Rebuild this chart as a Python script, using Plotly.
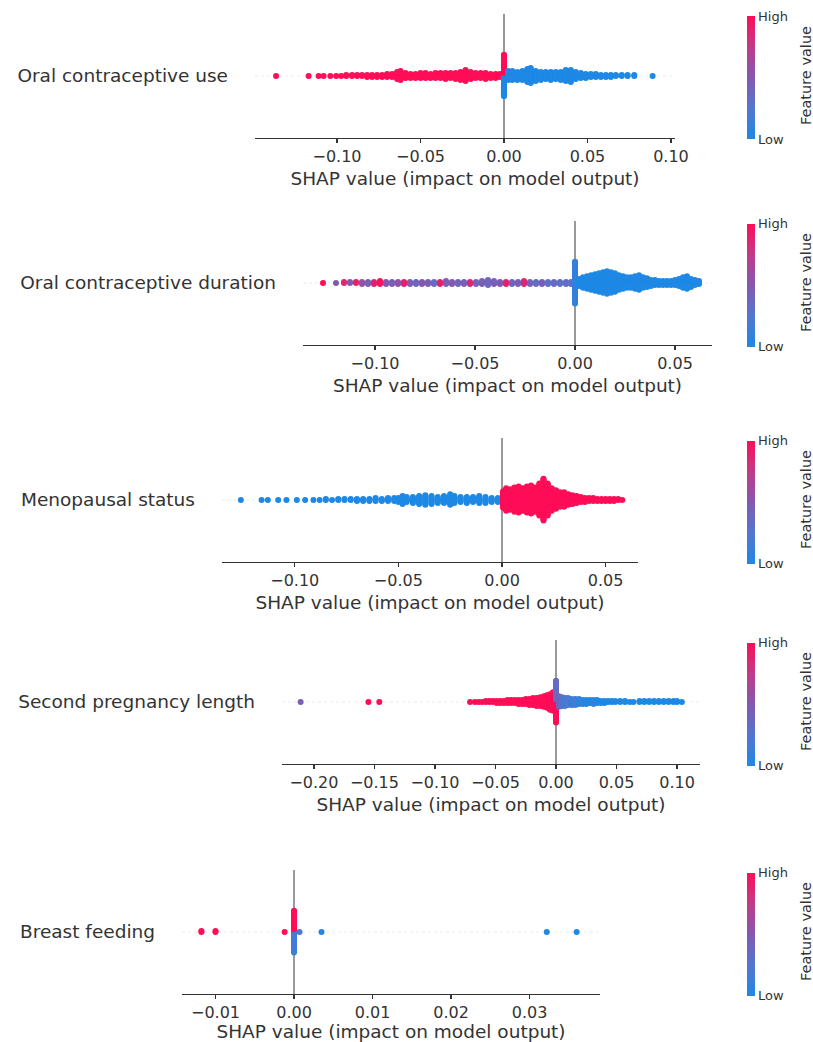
import math
import plotly.graph_objects as go

W, H = 813, 1042

features = [
    "Oral contraceptive use",
    "Oral contraceptive duration",
    "Menopausal status",
    "Second pregnancy length",
    "Breast feeding",
]

# ---------------- data (SHAP value, number of samples, feature value 0=low..1=high)
p1_shap = [-0.1365, -0.117, -0.111, -0.108, -0.104, -0.1005, -0.0975,
           -0.0945, -0.091, -0.088, -0.085, -0.082, -0.079, -0.076, -0.073,
           -0.070, -0.067, -0.064, -0.062, -0.059, -0.056, -0.053, -0.050,
           -0.047, -0.044, -0.041, -0.038, -0.035, -0.032, -0.029, -0.026,
           -0.023, -0.020, -0.017, -0.014, -0.011, -0.008, -0.005, -0.0025,
           0.0, 0.0,
           0.0025, 0.005, 0.008, 0.011, 0.014, 0.016, 0.019, 0.022,
           0.025, 0.028, 0.031, 0.034, 0.037, 0.040, 0.043, 0.046,
           0.049, 0.052, 0.055, 0.058, 0.061, 0.064, 0.067, 0.0705,
           0.074, 0.078, 0.089]
p1_count = [1, 1, 1, 1, 1, 1, 1,
            2, 2, 2, 2, 3, 3, 3, 3,
            4, 4, 8, 10, 6, 5, 5, 6,
            6, 5, 6, 6, 7, 6, 7, 9,
            12, 8, 6, 6, 7, 5, 5, 4,
            21, 21,
            10, 10, 9, 10, 14, 16, 11, 9,
            8, 9, 8, 9, 12, 13, 8, 6,
            5, 4, 4, 3, 3, 3, 2, 2,
            2, 2, 1]
p1_feat = [1, 1, 1, 1, 1, 1, 1,
           1, 1, 1, 1, 1, 1, 1, 1,
           1, 1, 1, 1, 1, 1, 1, 1,
           1, 1, 1, 1, 1, 1, 1, 1,
           1, 1, 1, 1, 1, 1, 1, 1,
           0, 1,
           0, 0, 0, 0, 0, 0, 0, 0,
           0, 0, 0, 0, 0, 0, 0, 0,
           0, 0, 0, 0, 0, 0, 0, 0,
           0, 0, 0]

p2_shap = [-0.126, -0.1195,
           -0.1155, -0.1125, -0.1095, -0.1065, -0.1035, -0.1005, -0.0975,
           -0.0945, -0.0915, -0.0885, -0.0855, -0.0825, -0.0795, -0.0765,
           -0.0735, -0.0705, -0.0675, -0.0645, -0.0615, -0.0585, -0.0555,
           -0.0525, -0.0495, -0.0465, -0.0435, -0.0405, -0.0375, -0.0345,
           -0.0315, -0.0285, -0.0255, -0.0225, -0.0195, -0.0165, -0.0135,
           -0.0105, -0.0075, -0.0045, -0.002,
           0.0,
           0.002, 0.004, 0.006, 0.008, 0.010, 0.012, 0.014, 0.016,
           0.018, 0.020, 0.022, 0.024, 0.026, 0.028, 0.030, 0.032,
           0.034, 0.036, 0.038, 0.040, 0.042, 0.044, 0.046, 0.048,
           0.050, 0.052, 0.054, 0.056, 0.058, 0.060, 0.062]
p2_count = [1, 1,
            2, 2, 2, 3, 3, 3, 4,
            3, 3, 3, 3, 3, 3, 3,
            3, 3, 3, 4, 3, 3, 3,
            3, 3, 4, 6, 4, 3, 3,
            3, 3, 4, 3, 3, 3, 3,
            3, 3, 3, 3,
            44,
            8, 12, 14, 16, 18, 20, 22, 24,
            22, 20, 16, 14, 12, 12, 14, 16,
            12, 10, 7, 6, 5, 5, 5, 5,
            6, 8, 12, 14, 9, 6, 4]
p2_feat = [1.0, 0.5,
           0.85, 0.5, 0.9, 0.55, 0.45, 0.9, 0.95,
           0.5, 0.45, 0.55, 0.9, 0.45, 0.4, 0.5,
           0.45, 0.35, 0.9, 0.45, 0.5, 0.4, 0.45,
           0.85, 0.4, 0.45, 0.4, 0.45, 0.5, 0.9,
           0.4, 0.45, 0.85, 0.4, 0.35, 0.45, 0.3,
           0.35, 0.3, 0.35, 0.3,
           0.1,
           0, 0, 0, 0, 0, 0, 0, 0,
           0, 0, 0, 0, 0, 0, 0, 0,
           0, 0, 0, 0, 0, 0, 0, 0,
           0, 0, 0, 0, 0, 0, 0]

p3_shap = [-0.126, -0.116, -0.113, -0.108, -0.104, -0.099, -0.095, -0.091,
           -0.088, -0.085, -0.082, -0.079, -0.076, -0.073, -0.070, -0.067,
           -0.064, -0.061, -0.058, -0.055, -0.052, -0.050, -0.048, -0.046,
           -0.043, -0.040, -0.037, -0.034, -0.031, -0.028, -0.025, -0.023,
           -0.020, -0.017, -0.014, -0.011, -0.008, -0.005, -0.002,
           0.0005, 0.002, 0.004, 0.006, 0.008, 0.010, 0.012, 0.014,
           0.016, 0.018, 0.020, 0.022, 0.024, 0.026, 0.028, 0.030,
           0.032, 0.034, 0.036, 0.038, 0.040, 0.042, 0.044, 0.046,
           0.048, 0.050, 0.052, 0.054, 0.056, 0.058]
p3_count = [1, 1, 1, 1, 1, 1, 1, 1,
            1, 2, 1, 2, 2, 2, 3, 3,
            3, 4, 3, 4, 4, 5, 9, 6,
            7, 9, 11, 9, 7, 8, 12, 8,
            6, 7, 6, 8, 7, 5, 5,
            18, 24, 22, 26, 28, 24, 28, 30,
            26, 34, 44, 34, 24, 20, 16, 16,
            12, 10, 8, 6, 5, 4, 4, 3,
            3, 3, 3, 3, 2, 1]
p3_feat = [0, 0, 0, 0, 0, 0, 0, 0,
           0, 0, 0, 0, 0, 0, 0, 0,
           0, 0, 0, 0, 0, 0, 0, 0,
           0, 0, 0, 0, 0, 0, 0, 0,
           0, 0, 0, 0, 0, 0, 0,
           1, 1, 1, 1, 1, 1, 1, 1,
           1, 1, 1, 1, 1, 1, 1, 1,
           1, 1, 1, 1, 1, 1, 1, 1,
           1, 1, 1, 1, 1, 1]

p4_shap = [-0.211, -0.155, -0.146,
           -0.071, -0.067, -0.064, -0.061, -0.058, -0.055, -0.052, -0.049,
           -0.046, -0.043, -0.040, -0.037, -0.034, -0.031, -0.028, -0.025,
           -0.022, -0.019, -0.016, -0.013, -0.010, -0.0075, -0.005, -0.0025,
           0.0, 0.0,
           0.0025, 0.005, 0.0075, 0.010, 0.013, 0.016, 0.019, 0.022,
           0.025, 0.028, 0.031, 0.034, 0.037, 0.040, 0.043, 0.046,
           0.049, 0.053, 0.057, 0.061, 0.064, 0.069, 0.073, 0.077,
           0.081, 0.085, 0.089, 0.093, 0.097, 0.100, 0.104]
p4_count = [1, 1, 1,
            1, 1, 1, 1, 2, 2, 2, 3,
            3, 3, 4, 4, 4, 5, 5, 6,
            7, 8, 9, 10, 12, 14, 17, 20,
            22, 22,
            12, 10, 9, 8, 7, 7, 6, 5,
            5, 4, 5, 4, 3, 3, 2, 2,
            2, 2, 2, 1, 1, 2, 2, 2,
            2, 2, 2, 2, 2, 2, 1]
p4_feat = [0.45, 1, 1,
           1, 1, 1, 1, 1, 1, 1, 1,
           1, 1, 1, 1, 1, 1, 1, 1,
           1, 1, 1, 1, 1, 1, 1, 1,
           1, 0.35,
           0.4, 0.3, 0.15, 0.25, 0.1, 0.2, 0.05, 0.1,
           0, 0, 0.1, 0, 0, 0, 0, 0,
           0, 0, 0, 0, 0, 0, 0, 0,
           0, 0, 0, 0, 0, 0, 0]

p5_shap = [-0.0118, -0.0100, -0.0012, 0.0, 0.0, 0.0007, 0.0035, 0.0322, 0.0360]
p5_count = [2, 2, 1, 22, 22, 1, 1, 1, 1]
p5_feat = [1, 1, 1, 0.15, 1, 0.2, 0, 0, 0]

# x-axis ranges and tick steps
x_ranges = [(-0.1491, 0.1024), (-0.136, 0.0685), (-0.1351, 0.0656),
            (-0.2264, 0.119), (-0.01427, 0.03898)]
tick_steps = [0.05, 0.05, 0.05, 0.05, 0.01]

# ---------------- layout geometry (pixels)
axis_left = [255, 303, 222, 282, 182]
axis_right = [675, 712, 638, 700, 600]
axis_bottom = [138, 345, 562, 764, 994]
plot_h = 124

colorscale = [[0.0, "#1E88E5"], [0.25, "#5377cf"], [0.5, "#8359b0"],
              [0.75, "#c03a8a"], [1.0, "#FF0D57"]]
AX = "#333333"
FONT = "DejaVu Sans"


def beeswarm(xs, ns, cs):
    """SHAP-style layering: points sharing a value stack alternately up/down."""
    bins = {}
    order = []
    for x, n, c in zip(xs, ns, cs):
        if x not in bins:
            bins[x] = []
            order.append(x)
        bins[x].append([c] * n)
    px, py, pc = [], [], []
    for x in order:
        lists = [list(l) for l in bins[x]]
        seq = []
        while any(lists):
            for l in lists:
                if l:
                    seq.append(l.pop(0))
        for layer, c in enumerate(seq):
            y = math.ceil(layer / 2) * ((layer % 2) * 2 - 1)
            px.append(x)
            py.append(y)
            pc.append(c)
    m = max(py) + 1
    scale = 0.9 * 0.4 / m
    return px, [y * scale for y in py], pc


data = [(p1_shap, p1_count, p1_feat), (p2_shap, p2_count, p2_feat),
        (p3_shap, p3_count, p3_feat), (p4_shap, p4_count, p4_feat),
        (p5_shap, p5_count, p5_feat)]

fig = go.Figure()
layout = dict(
    width=W, height=H,
    margin=dict(l=0, r=0, t=0, b=0),
    paper_bgcolor="white", plot_bgcolor="white",
    showlegend=False,
    font=dict(family=FONT, color=AX),
)
shapes = []
annotations = []

for k, (xs, ns, cs) in enumerate(data):
    i = k + 1
    sfx = "" if i == 1 else str(i)
    px, py, pc = beeswarm(xs, ns, cs)
    fig.add_trace(go.Scatter(
        x=px, y=py, mode="markers",
        xaxis="x" + sfx, yaxis="y" + sfx,
        marker=dict(size=6, color=pc, coloraxis="coloraxis" + sfx,
                    line=dict(width=0)),
        hoverinfo="skip",
    ))
    bottom = axis_bottom[k]
    top = bottom - plot_h
    cb_mid = (top + bottom) / 2 + 2
    layout["xaxis" + sfx] = dict(
        domain=[axis_left[k] / W, axis_right[k] / W],
        anchor="y" + sfx,
        range=list(x_ranges[k]),
        showgrid=False,
        zeroline=True, zerolinecolor="#999999", zerolinewidth=1.2,
        showline=True, linecolor=AX, linewidth=1.1,
        ticks="outside", ticklen=4, tickwidth=1.1, tickcolor=AX,
        tick0=0, dtick=tick_steps[k], tickformat=".2f",
        tickfont=dict(size=16, color=AX, family=FONT),
        title=dict(text="SHAP value (impact on model output)",
                   font=dict(size=18.5, color=AX, family=FONT), standoff=6),
        automargin=False, fixedrange=True,
    )
    layout["yaxis" + sfx] = dict(
        domain=[1 - bottom / H, 1 - top / H],
        anchor="x" + sfx,
        range=[-1, 1],
        showgrid=False, zeroline=False, showline=False,
        tickvals=[0], ticktext=[features[k]], ticks="",
        ticklabelstandoff=26,
        tickfont=dict(size=18.5, color=AX, family=FONT),
        automargin=False, fixedrange=True,
    )
    layout["coloraxis" + sfx] = dict(
        colorscale=colorscale, cmin=0, cmax=1,
        colorbar=dict(
            x=747 / W, xanchor="left", xpad=0,
            y=1 - cb_mid / H, yanchor="middle", ypad=0,
            len=123, lenmode="pixels",
            thickness=8, thicknessmode="pixels",
            outlinewidth=0,
            tickvals=[0, 1], ticktext=["Low", "High"], ticks="",
            tickfont=dict(size=13, color=AX, family=FONT),
        ),
    )
    annotations.append(dict(
        text="Feature value", textangle=-90,
        xref="paper", yref="paper",
        x=806 / W, y=1 - (cb_mid - 2) / H,
        xanchor="center", yanchor="middle", showarrow=False,
        font=dict(size=14.5, color=AX, family=FONT),
    ))
    shapes.append(dict(
        type="line", xref="x" + sfx + " domain", yref="y" + sfx,
        x0=0, x1=1, y0=0, y1=0, layer="below",
        line=dict(color="#d6d6d6", width=0.5, dash="dot"),
    ))

layout["shapes"] = shapes
layout["annotations"] = annotations
fig.update_layout(**layout)
fig.write_html(
    "out.html",
    config={"displayModeBar": False, "staticPlot": True},
    post_script="document.body.style.margin='0';document.body.style.padding='0';",
)
